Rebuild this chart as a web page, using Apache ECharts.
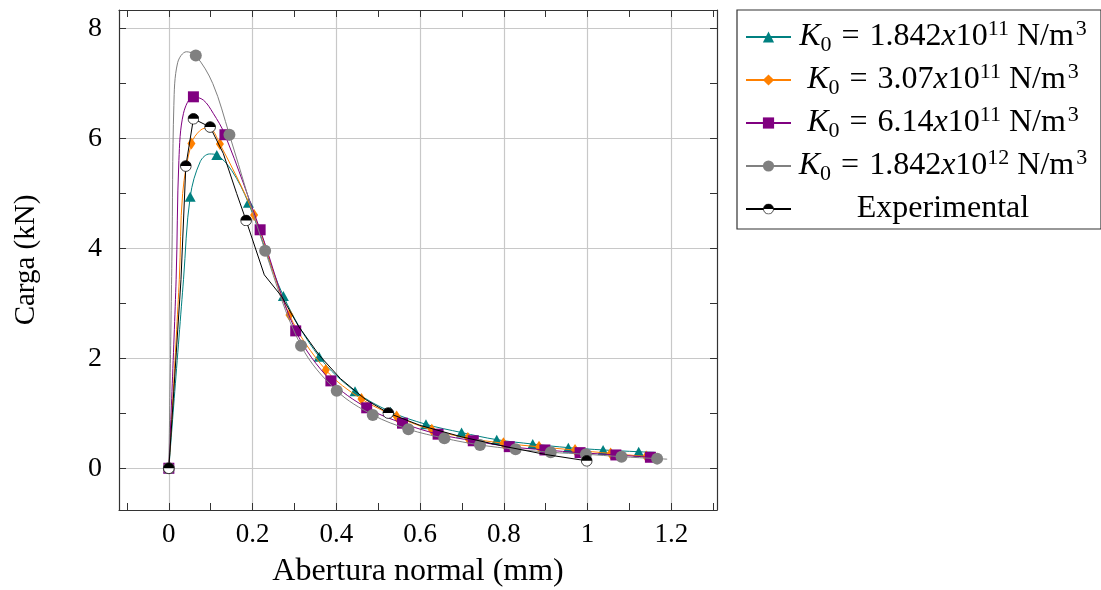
<!DOCTYPE html>
<html><head><meta charset="utf-8">
<script src="https://cdn.jsdelivr.net/npm/echarts@6/dist/echarts.min.js"></script>
<style>html,body{margin:0;padding:0;background:#fff}#c{width:1101px;height:590px}</style>
</head><body><div id="c"></div>
<script>
// ---- axis settings (values) ----
const X_RANGE = [-0.119, 1.309];
const Y_RANGE = [-0.76, 8.34];
const X_TICKS_MAJOR = [0, 0.2, 0.4, 0.6, 0.8, 1, 1.2];
const X_TICKS_MINOR = [-0.1, 0.1, 0.3, 0.5, 0.7, 0.9, 1.1, 1.3];
const Y_TICKS_MAJOR = [0, 2, 4, 6, 8];
const Y_TICKS_MINOR = [1, 3, 5, 7];
const X_NAME = 'Abertura normal (mm)';
const Y_NAME = 'Carga (kN)';

// ---- series names / legend parts ----
const SERIES_NAMES = ['K₀ = 1.842x10¹¹ N/m³', 'K₀ = 3.07x10¹¹ N/m³', 'K₀ = 6.14x10¹¹ N/m³', 'K₀ = 1.842x10¹² N/m³', 'Experimental'];
const LEGEND_MANTISSA = ['1.842', '3.07', '6.14', '1.842'];
const LEGEND_EXPONENT = ['11', '11', '11', '12'];

// ---- data: marked points and extra points read on the curves ----
const k1_marks = [[0,0],[0.051,4.94],[0.1145,5.70],[0.19,4.83],[0.2735,3.135],[0.359,2.03],[0.4446,1.40],[0.529,1.03],[0.614,0.80],[0.699,0.65],[0.783,0.52],[0.869,0.44],[0.954,0.375],[1.037,0.333],[1.122,0.30]];
const k1_curve = [[0.035,3.43],[0.075,5.58],[0.097,5.72],[0.15,5.42],[1.16,0.29]];

const k2_marks = [[0,0],[0.054,5.91],[0.122,5.90],[0.2036,4.61],[0.288,2.79],[0.3747,1.79],[0.46,1.26],[0.544,0.94],[0.628,0.70],[0.714,0.55],[0.799,0.455],[0.884,0.39],[0.97,0.33],[1.055,0.27],[1.14,0.215]];
const k2_curve = [[0.025,3.43],[0.033,5.0],[0.075,6.15],[0.095,6.2],[1.17,0.2]];

const k3_marks = [[0,0],[0.0587,6.76],[0.134,6.07],[0.218,4.34],[0.303,2.50],[0.387,1.59],[0.4725,1.10],[0.558,0.82],[0.643,0.62],[0.727,0.50],[0.813,0.393],[0.898,0.333],[0.982,0.284],[1.0675,0.242],[1.15,0.20]];
const k3_curve = [[0.0174,3.43],[0.024,5.6],[0.035,6.46],[0.0826,6.70],[0.106,6.46],[1.17,0.19]];

const k4_marks = [[0,0],[0.0644,7.51],[0.1447,6.07],[0.23,3.96],[0.3157,2.23],[0.401,1.41],[0.487,0.97],[0.572,0.71],[0.658,0.546],[0.743,0.424],[0.828,0.346],[0.912,0.29],[0.996,0.255],[1.081,0.21],[1.166,0.175]];
const k4_curve = [[0.0075,3.9],[0.012,6.6],[0.021,7.38],[0.042,7.58],[0.105,7.0],[1.19,0.165]];

const exp_marks = [[0,0],[0.0406,5.50],[0.0587,6.36],[0.0986,6.21],[0.1845,4.51],[0.524,1.005],[0.998,0.135]];
const exp_curve = [[0.029,3.43],[0.13,5.73],[0.162,5.0],[0.228,3.52],[0.27,3.12],[0.31,2.58],[0.36,2.05],[0.41,1.63],[0.47,1.25],[0.6,0.78],[0.7,0.57],[0.8,0.40],[0.9,0.25]];

const COLORS = ['#008080', '#ff8000', '#800080', '#808080', '#000000'];

function build(marks, curve) {
  const pts = marks.map(p => ({ v: p, m: true })).concat(curve.map(p => ({ v: p, m: false })));
  pts.sort((a, b) => a.v[0] - b.v[0]);
  return pts.map(p => p.m ? { value: p.v } : { value: p.v, symbol: 'none' });
}

const halfCircleSvg = "<svg xmlns='http://www.w3.org/2000/svg' width='48' height='48' viewBox='0 0 48 48'>" +
  "<circle cx='24' cy='24' r='21.5' fill='white' stroke='black' stroke-width='3'/>" +
  "<path d='M2.5 24 A21.5 21.5 0 0 1 45.5 24 Z' fill='black'/></svg>";
const HALF_CIRCLE = 'image://data:image/svg+xml;charset=utf-8,' + encodeURIComponent(halfCircleSvg);

const FONT = '"Liberation Serif", "DejaVu Serif", serif';

// legend rich text with centering
const LEG_FS = 32, LEG_SUB = 22, COL_W = 294, EQ_PAD = 2;
const ctx = document.createElement('canvas').getContext('2d');
function tw(text, size, italic) {
  ctx.font = (italic ? 'italic ' : '') + size + 'px "Liberation Serif"';
  return ctx.measureText(text).width;
}
function legendText(idx) {
  if (idx === 4) {
    const w = tw('Experimental', LEG_FS, false);
    return { str: '{A| }{r|Experimental}{B| }', pad: Math.max(0, (COL_W - w) / 2) };
  }
  const m = LEGEND_MANTISSA[idx], e = LEGEND_EXPONENT[idx];
  const w = tw('K', LEG_FS, true) + tw('0', LEG_SUB) + tw(' = ', LEG_FS) + 2 * EQ_PAD + tw(m, LEG_FS) + tw('x', LEG_FS, true) +
            tw('10', LEG_FS) + tw(e, LEG_SUB) + tw(' N/m', LEG_FS) + 2 + tw('3', LEG_SUB);
  return { str: '{A| }{i|K}{sub|0}{eq| = }{r|' + m + '}{i|x}{r|10}{sup|' + e + '}{n| N/m}{sup|3}{B| }', pad: Math.max(0, (COL_W - w) / 2) };
}
const legendInfo = SERIES_NAMES.map((n, i) => legendText(i));

const chart = echarts.init(document.getElementById('c'), null, { renderer: 'canvas' });

const axisLineStyle = { color: '#333', width: 1.2 };
const tickStyle = { color: '#333', width: 1 };

function mkSeries(i, marks, curve, symbol, size) {
  return {
    type: 'line', name: SERIES_NAMES[i], data: build(marks, curve),
    smooth: i === 4 ? false : 0.35,
    symbol: symbol, symbolSize: size, showSymbol: true,
    lineStyle: { color: COLORS[i], width: 1 },
    itemStyle: { color: COLORS[i] },
    emphasis: { disabled: true },
    z: 2 + i
  };
}

function tickAxis(position, range, ticks, withLine) {
  return {
    type: 'value', position: position, min: range[0], max: range[1],
    axisLine: { show: withLine, onZero: false, lineStyle: axisLineStyle },
    axisLabel: { show: false }, splitLine: { show: false },
    axisTick: { show: true, inside: true, length: 7, lineStyle: tickStyle, customValues: ticks }
  };
}

const option = {
  animation: false,
  backgroundColor: '#fff',
  grid: { left: 119, top: 10, width: 598, height: 500, containLabel: false, outerBoundsMode: 'none' },
  xAxis: [
    { type: 'value', position: 'bottom', min: X_RANGE[0], max: X_RANGE[1],
      name: X_NAME, nameLocation: 'middle', nameGap: 46,
      nameTextStyle: { fontFamily: FONT, fontSize: 32, color: '#000' },
      axisLine: { show: true, onZero: false, lineStyle: axisLineStyle },
      axisTick: { show: true, inside: true, length: 7, lineStyle: tickStyle, customValues: X_TICKS_MAJOR },
      axisLabel: { show: true, customValues: X_TICKS_MAJOR, margin: 11, fontFamily: FONT, fontSize: 27, color: '#000' },
      splitLine: { show: true, lineStyle: { color: '#c8c8c8', width: 1.2 } } },
    tickAxis('bottom', X_RANGE, X_TICKS_MINOR, false),
    tickAxis('top', X_RANGE, X_TICKS_MAJOR.concat(X_TICKS_MINOR), true)
  ],
  yAxis: [
    { type: 'value', position: 'left', min: Y_RANGE[0], max: Y_RANGE[1],
      name: Y_NAME, nameLocation: 'middle', nameGap: 78,
      nameTextStyle: { fontFamily: FONT, fontSize: 29, color: '#000' },
      axisLine: { show: true, onZero: false, lineStyle: axisLineStyle },
      axisTick: { show: true, inside: true, length: 7, lineStyle: tickStyle, customValues: Y_TICKS_MAJOR },
      axisLabel: { show: true, customValues: Y_TICKS_MAJOR, margin: 17, fontFamily: FONT, fontSize: 28, color: '#000' },
      splitLine: { show: true, lineStyle: { color: '#c8c8c8', width: 1.2 } } },
    tickAxis('left', Y_RANGE, Y_TICKS_MINOR, false),
    tickAxis('right', Y_RANGE, Y_TICKS_MAJOR.concat(Y_TICKS_MINOR), true)
  ],
  legend: {
    orient: 'vertical', left: 737, top: 10,
    padding: [8, 11, 1, 8], itemGap: 5, itemWidth: 45, itemHeight: 14,
    borderColor: '#333', borderWidth: 1.2, backgroundColor: '#fff',
    data: SERIES_NAMES,
    formatter: function (name) {
      const i = SERIES_NAMES.indexOf(name);
      return legendInfo[i].str.replace('{A| }', '{a' + i + '| }').replace('{B| }', '{b' + i + '| }');
    },
    textStyle: {
      fontFamily: FONT, fontSize: LEG_FS, color: '#000', lineHeight: 38,
      rich: {
        r: { fontFamily: FONT, fontSize: LEG_FS, lineHeight: 38, color: '#000' },
        eq: { fontFamily: FONT, fontSize: LEG_FS, lineHeight: 38, color: '#000', padding: [0, EQ_PAD, 0, EQ_PAD] },
        n: { fontFamily: FONT, fontSize: LEG_FS, lineHeight: 38, color: '#000', padding: [0, 2, 0, 0] },
        i: { fontFamily: FONT, fontSize: LEG_FS, fontStyle: 'italic', lineHeight: 38, color: '#000' },
        sub: { fontFamily: FONT, fontSize: LEG_SUB, lineHeight: 22, verticalAlign: 'bottom', color: '#000' },
        sup: { fontFamily: FONT, fontSize: LEG_SUB, lineHeight: 22, verticalAlign: 'top', color: '#000' }
      }
    }
  },
  series: [
    mkSeries(0, k1_marks, k1_curve, 'triangle', [11, 10]),
    mkSeries(1, k2_marks, k2_curve, 'diamond', [8, 12]),
    mkSeries(2, k3_marks, k3_curve, 'rect', 11),
    mkSeries(3, k4_marks, k4_curve, 'circle', 12),
    mkSeries(4, exp_marks, exp_curve, HALF_CIRCLE, 12)
  ]
};
legendInfo.forEach((info, i) => {
  option.legend.textStyle.rich['a' + i] = { fontSize: 10, width: info.pad };
  option.legend.textStyle.rich['b' + i] = { fontSize: 10, width: info.pad };
});
chart.setOption(option);
</script></body></html>
